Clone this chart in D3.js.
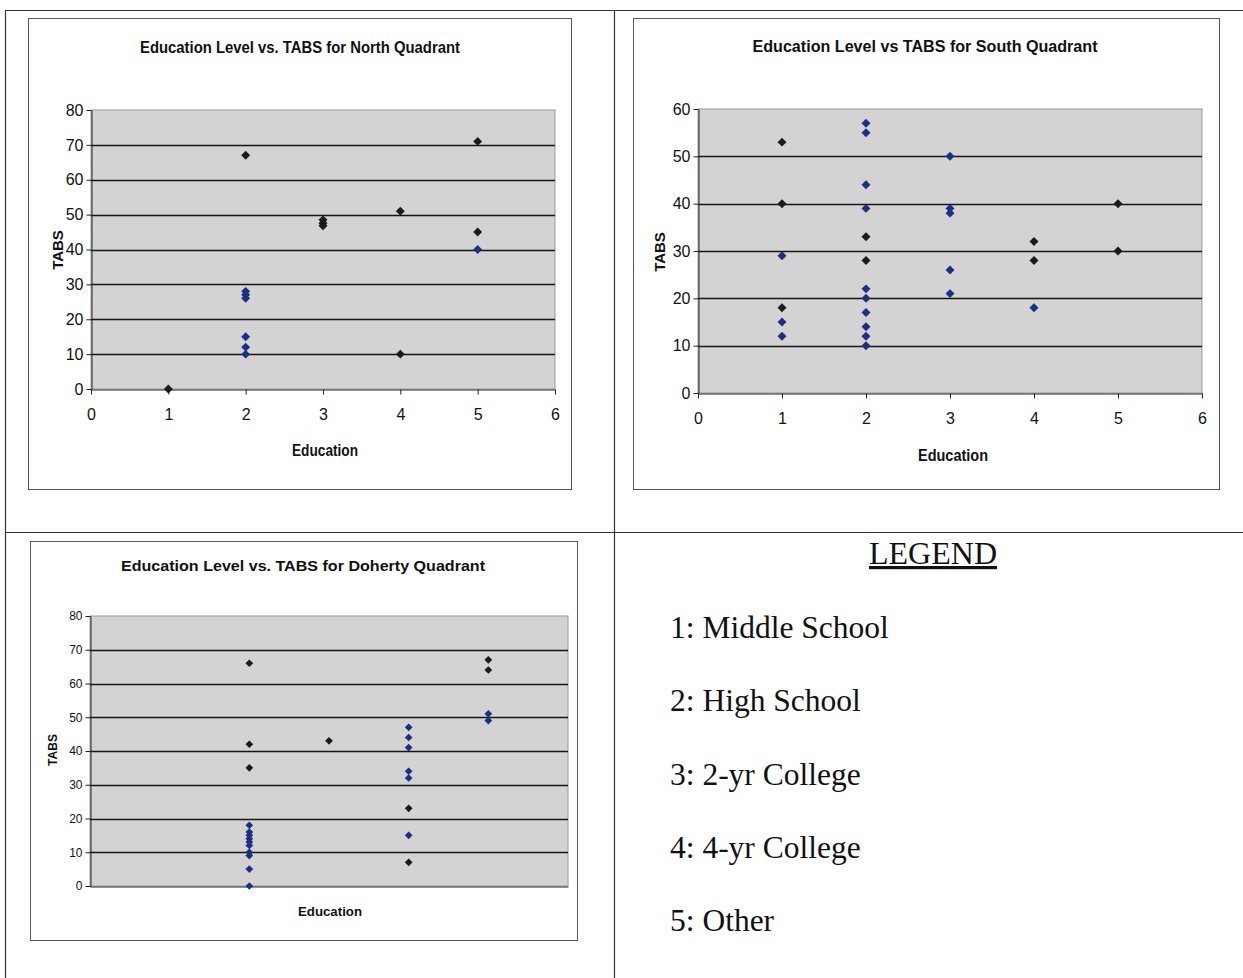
<!DOCTYPE html>
<html>
<head>
<meta charset="utf-8">
<script src="https://cdn.jsdelivr.net/npm/d3@7"></script>
<style>
  html, body { margin: 0; padding: 0; background: #fff; }
  svg { display: block; }
  .tick text { font-family: "Liberation Sans", Arial, sans-serif; fill: #111; }
</style>
</head>
<body>
<svg id="page" width="1243" height="978"></svg>
<script>
// Education level (x) and TABS score (y) for each quadrant, two marker groups each
const educationTicks = [0, 1, 2, 3, 4, 5, 6];

const northDark = [[1, 0], [2, 67], [3, 48.5], [3, 47.5], [3, 46.8], [4, 51], [4, 10], [5, 71], [5, 45]];
const northBlue = [[2, 28], [2, 27], [2, 26], [2, 15], [2, 12], [2, 10], [5, 40]];
const northTabsTicks = [0, 10, 20, 30, 40, 50, 60, 70, 80];

const southDark = [[1, 53], [1, 40], [1, 18], [2, 33], [2, 28], [4, 32], [4, 28], [5, 40], [5, 30]];
const southBlue = [[1, 29], [1, 15], [1, 12], [2, 57], [2, 55], [2, 44], [2, 39], [2, 22], [2, 20],
                   [2, 17], [2, 14], [2, 12], [2, 10], [3, 50], [3, 39], [3, 38], [3, 26], [3, 21], [4, 18]];
const southTabsTicks = [0, 10, 20, 30, 40, 50, 60];

const dohertyDark = [[2, 66], [2, 42], [2, 35], [3, 43], [4, 23], [4, 7], [5, 67], [5, 64]];
const dohertyBlue = [[2, 18], [2, 16], [2, 15], [2, 14], [2, 13], [2, 12], [2, 10], [2, 9], [2, 5], [2, 0],
                     [4, 47], [4, 44], [4, 41], [4, 34], [4, 32], [4, 15], [5, 51], [5, 49]];
const dohertyTabsTicks = [0, 10, 20, 30, 40, 50, 60, 70, 80];

const legendItems = ["1: Middle School", "2: High School", "3: 2-yr College", "4: 4-yr College", "5: Other"];

const DARK = "#1b1b1b";
const BLUE = "#1d2f82";
const PLOT_BG = "#d3d3d3";
const SANS = "'Liberation Sans', Arial, sans-serif";

const svg = d3.select("#page");

// Page table rules around the four cells
const rules = svg.append("g").attr("stroke", "#333").attr("stroke-width", 1.2);
rules.append("line").attr("x1", 5).attr("x2", 1243).attr("y1", 10.5).attr("y2", 10.5);
rules.append("line").attr("x1", 5.5).attr("x2", 5.5).attr("y1", 10).attr("y2", 978);
rules.append("line").attr("x1", 614.5).attr("x2", 614.5).attr("y1", 10).attr("y2", 978);
rules.append("line").attr("x1", 5).attr("x2", 1243).attr("y1", 532.5).attr("y2", 532.5);

function drawChart(cfg) {
  const g = svg.append("g");

  // chart frame
  g.append("rect")
    .attr("x", cfg.box[0] + 0.5).attr("y", cfg.box[1] + 0.5)
    .attr("width", cfg.box[2] - cfg.box[0]).attr("height", cfg.box[3] - cfg.box[1])
    .attr("fill", "#fff").attr("stroke", "#555").attr("stroke-width", 1);

  const [pl, pt, pr, pb] = cfg.plot;
  const x = d3.scaleLinear().domain([0, 6]).range([pl, pr]);
  const y = d3.scaleLinear().domain([0, cfg.yTicks[cfg.yTicks.length - 1]]).range([pb, pt]);

  // plot area
  g.append("rect")
    .attr("x", pl).attr("y", pt).attr("width", pr - pl).attr("height", pb - pt)
    .attr("fill", PLOT_BG).attr("stroke", "#9a9a9a").attr("stroke-width", 1);

  // horizontal gridlines
  g.append("g").selectAll("line")
    .data(cfg.yTicks.slice(1, -1))
    .join("line")
    .attr("x1", pl).attr("x2", pr)
    .attr("y1", d => Math.round(y(d)) + 0.5).attr("y2", d => Math.round(y(d)) + 0.5)
    .attr("stroke", "#151515").attr("stroke-width", 1.3);

  // y axis
  const yAxis = g.append("g")
    .attr("transform", `translate(${pl + 0.5},0)`)
    .call(d3.axisLeft(y).tickValues(cfg.yTicks).tickFormat(d3.format("d"))
      .tickSize(5).tickPadding(3).tickSizeOuter(0));
  yAxis.selectAll("text").attr("font-size", cfg.yFont).attr("font-family", SANS);
  yAxis.selectAll("line, path").attr("stroke", "#222");

  // x axis
  const xAxis = g.append("g")
    .attr("transform", `translate(0,${pb + 0.5})`)
    .call(d3.axisBottom(x).tickValues(educationTicks).tickFormat(d3.format("d"))
      .tickSize(cfg.xLabels ? 5 : 0).tickSizeOuter(0).tickPadding(cfg.xPad || 14));
  xAxis.selectAll("path").attr("stroke", "#222");
  xAxis.selectAll("line").attr("stroke", "#222");
  if (cfg.xLabels) {
    xAxis.selectAll("text").attr("font-size", cfg.xFont).attr("font-family", SANS);
  } else {
    xAxis.selectAll("text").remove();
  }

  // markers: small diamonds
  const diamond = d3.symbol().type(d3.symbolSquare).size(cfg.markerSize);
  [[cfg.dark, DARK], [cfg.blue, BLUE]].forEach(([pts, color]) => {
    g.append("g").selectAll("path")
      .data(pts)
      .join("path")
      .attr("d", diamond)
      .attr("transform", d => `translate(${x(d[0])},${y(d[1])}) rotate(45)`)
      .attr("fill", color);
  });

  // title
  g.append("text")
    .attr("x", cfg.title.x).attr("y", cfg.title.y)
    .attr("text-anchor", "middle")
    .attr("font-family", SANS).attr("font-weight", "bold")
    .attr("font-size", cfg.title.size)
    .attr("textLength", cfg.title.len).attr("lengthAdjust", "spacingAndGlyphs")
    .attr("fill", "#111")
    .text(cfg.title.text);

  // axis titles
  g.append("text")
    .attr("transform", `translate(${cfg.yTitle.x},${cfg.yTitle.y}) rotate(-90)`)
    .attr("text-anchor", "middle")
    .attr("font-family", SANS).attr("font-weight", "bold")
    .attr("font-size", cfg.yTitle.size)
    .attr("fill", "#111")
    .text("TABS");

  g.append("text")
    .attr("x", cfg.xTitle.x).attr("y", cfg.xTitle.y)
    .attr("text-anchor", "middle")
    .attr("font-family", SANS).attr("font-weight", "bold")
    .attr("font-size", cfg.xTitle.size)
    .attr("textLength", cfg.xTitle.len).attr("lengthAdjust", "spacingAndGlyphs")
    .attr("fill", "#111")
    .text("Education");
}

drawChart({
  box: [28, 18, 571, 489],
  plot: [91, 110, 555, 389],
  yTicks: northTabsTicks,
  dark: northDark, blue: northBlue,
  yFont: 16, xFont: 16, xLabels: true, xPad: 14,
  markerSize: 40,
  title: { text: "Education Level vs. TABS for North Quadrant", x: 300, y: 53, size: 17, len: 320 },
  yTitle: { x: 63, y: 250, size: 15 },
  xTitle: { x: 325, y: 456, size: 16, len: 66 }
});

drawChart({
  box: [633, 18, 1219, 489],
  plot: [698, 109, 1202, 393],
  yTicks: southTabsTicks,
  dark: southDark, blue: southBlue,
  yFont: 16, xFont: 16, xLabels: true, xPad: 14,
  markerSize: 40,
  title: { text: "Education Level vs TABS for South Quadrant", x: 925, y: 52, size: 17, len: 345 },
  yTitle: { x: 665, y: 252, size: 15 },
  xTitle: { x: 953, y: 461, size: 16, len: 70 }
});

drawChart({
  box: [30, 541, 577, 940],
  plot: [90, 616, 568, 886],
  yTicks: dohertyTabsTicks,
  dark: dohertyDark, blue: dohertyBlue,
  yFont: 12, xFont: 12, xLabels: false,
  markerSize: 30,
  title: { text: "Education Level vs. TABS for Doherty Quadrant", x: 303, y: 571, size: 15, len: 364 },
  yTitle: { x: 57, y: 750, size: 12 },
  xTitle: { x: 330, y: 916, size: 12, len: 64 }
});

// legend cell
const legend = svg.append("g").attr("font-family", "'Liberation Serif', 'Times New Roman', serif").attr("fill", "#111");
legend.append("text")
  .attr("x", 933).attr("y", 564)
  .attr("text-anchor", "middle")
  .attr("font-size", 32)
  .attr("text-decoration", "underline")
  .text("LEGEND");
legend.selectAll("text.item")
  .data(legendItems)
  .join("text")
  .attr("class", "item")
  .attr("x", 670)
  .attr("y", (d, i) => 638 + i * 73.3)
  .attr("font-size", 31.5)
  .text(d => d);
</script>
</body>
</html>
